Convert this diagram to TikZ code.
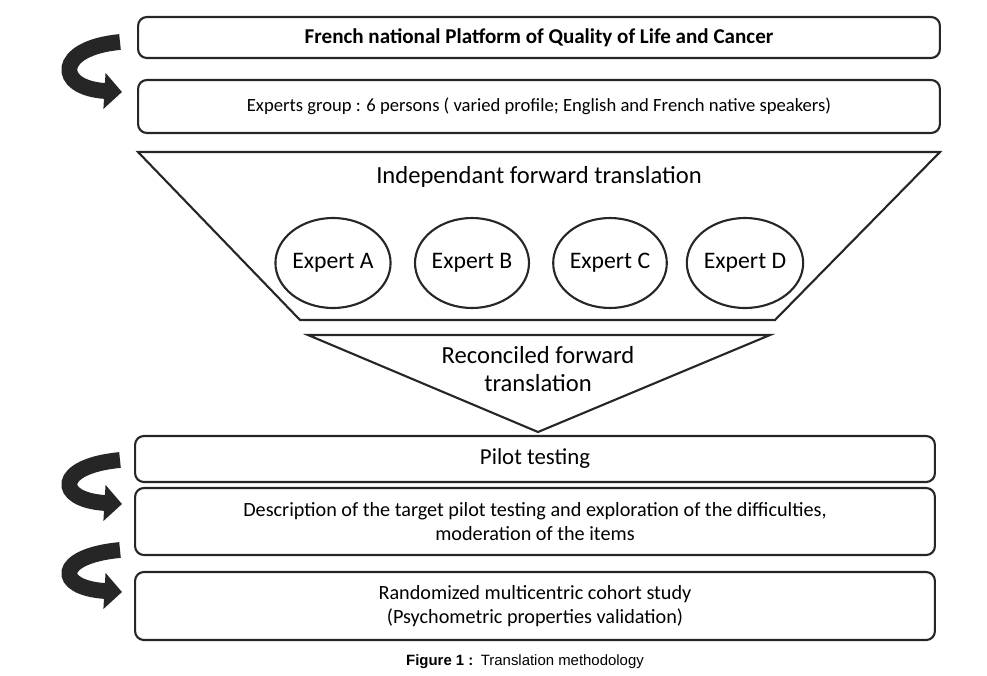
\documentclass[tikz,border=0pt]{standalone}
\usepackage{fontspec}
\setmainfont{Carlito}
\newfontfamily\capfont{Liberation Sans}
\usetikzlibrary{arrows.meta,shapes.geometric}

\tikzset{
  stagebox/.style={draw=black!85, line width=1.2pt, rounded corners=5pt},
  expert/.style={draw=black!85, line width=1.2pt, ellipse, minimum width=2.2cm, minimum height=1.8cm, inner sep=0pt, font=\fontsize{13.5}{15}\selectfont},
  loopback/.style={line width=9pt, black!85, -{Triangle[length=10pt,width=20pt]}}
}

\begin{document}
\begin{tikzpicture}[x=0.02cm,y=-0.02cm]
        \useasboundingbox (0,0) rectangle (987,676);
        % Platform and experts
        \node[stagebox, minimum width=16.04cm, minimum height=0.82cm, font=\bfseries\fontsize{12}{14}\selectfont] (platform) at (539,37.5) {French national Platform of Quality of Life and Cancer};
        \node[stagebox, minimum width=16.04cm, minimum height=1.06cm, font=\fontsize{10.6}{13}\selectfont] (group) at (539,106.5) {Experts group : 6 persons ( varied profile; English and French native speakers)};
        % Forward translation
        \draw[line width=1.2pt, black!85] (138,152) -- (940,152) -- (775,320) -- (300,320) -- cycle;
        \node[font=\fontsize{14}{16}\selectfont] (forward) at (539,177) {Independant forward translation};
        \node[expert] (expA) at (333,263) {Expert A};
        \node[expert] (expB) at (472,263) {Expert B};
        \node[expert] (expC) at (610,263) {Expert C};
        \node[expert] (expD) at (745,263) {Expert D};
        % Reconciliation
        \draw[line width=1.2pt, black!85] (308,335) -- (770,335) -- (538,432) -- cycle;
        \node[font=\fontsize{14}{15.5}\selectfont, align=center] (reconciled) at (538,369) {Reconciled forward\\translation};
        % Pilot and cohort
        \node[stagebox, minimum width=16cm, minimum height=0.92cm, font=\fontsize{13}{15}\selectfont] (pilot) at (535,459) {Pilot testing};
        \node[stagebox, minimum width=16cm, minimum height=1.34cm, align=center, font=\fontsize{11.5}{14}\selectfont] (description) at (535,521.5) {Description of the target pilot testing and exploration of the difficulties,\\moderation of the items};
        \node[stagebox, minimum width=16cm, minimum height=1.36cm, align=center, font=\fontsize{11.5}{14}\selectfont] (cohort) at (535,606) {Randomized multicentric cohort study\\(Psychometric properties validation)};
        % Loop arrows
        \draw[loopback] (120,42) .. controls (55,48) and (55,88) .. (122,92);
        \draw[loopback] (120,460) .. controls (55,466) and (55,500) .. (122,504);
        \draw[loopback] (120,550) .. controls (55,556) and (55,588) .. (122,592);
        % Caption
        \node[font=\capfont\fontsize{8.5}{10}\selectfont] (caption) at (525,662) {\textbf{Figure 1 :}\enspace Translation methodology};
\end{tikzpicture}
\end{document}
